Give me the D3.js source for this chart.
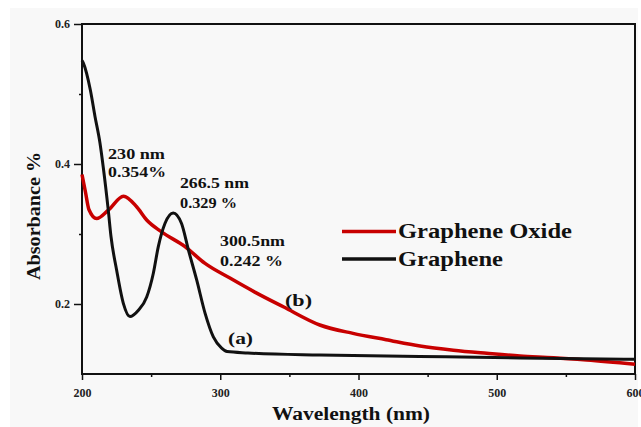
<!DOCTYPE html>
<html><head><meta charset="utf-8">
<script src="https://cdn.jsdelivr.net/npm/d3@7"></script>
<style>body{margin:0;background:#fff}svg{display:block}text{font-family:"Liberation Serif","Times New Roman",serif;font-weight:bold}</style>
</head><body>
<script>
// ---- data ----
const grapheneWl  = [200,201,206,209.4,213,215.4,219,221,225,229.9,234.7,240.8,246.8,251.6,255.2,260,266,272,277,283,289,295,301,305,320,372,444,517,600];
const grapheneAbs = [0.548,0.544,0.506,0.468,0.430,0.395,0.334,0.296,0.249,0.201,0.182,0.191,0.210,0.244,0.282,0.315,0.330,0.315,0.277,0.234,0.187,0.153,0.137,0.132,0.130,0.127,0.125,0.123,0.121];
const goWl  = [200,202.5,205,210.6,219,230,239.5,246.8,257.6,274.5,289,307,325,345.6,372,396,420,444.5,468.6,492.7,516.8,541,565,600];
const goAbs = [0.385,0.360,0.335,0.322,0.334,0.354,0.339,0.320,0.303,0.282,0.258,0.237,0.217,0.196,0.170,0.158,0.149,0.140,0.134,0.1296,0.1257,0.1233,0.120,0.114];
const xMajorTicks = [200,300,400,500,600];
const xMinorTicks = [250,350,450,550];
const yMajorTicks = [0.2,0.4,0.6];
const yMinorTicks = [0.3,0.5];
const seriesNames = ["Graphene Oxide","Graphene"];
const annotations = [
  {text:"230 nm", wl:230, v:0.354, row:0},
  {text:"0.354%", wl:230, v:0.354, row:1},
  {text:"266.5 nm", wl:266.5, v:0.329, row:0},
  {text:"0.329 %", wl:266.5, v:0.329, row:1},
  {text:"300.5nm", wl:300.5, v:0.242, row:0},
  {text:"0.242 %", wl:300.5, v:0.242, row:1}
];

const W=641,H=427;
const svg=d3.select("body").append("svg").attr("width",W).attr("height",H);
svg.append("rect").attr("x",10).attr("y",8).attr("width",628).attr("height",H-8).attr("fill","#f8f8f8");

const x=d3.scaleLinear().domain([200,600]).range([82,635]);
const y=d3.scaleLinear().domain([0.1,0.6]).range([374,24]);

// axes
const gx=svg.append("g").attr("transform","translate(0,374)");
gx.call(d3.axisBottom(x).tickValues(xMajorTicks).tickSize(6).tickPadding(8).tickFormat(d3.format("d")));
const gx2=svg.append("g").attr("transform","translate(0,374)");
gx2.call(d3.axisBottom(x).tickValues(xMinorTicks).tickSize(3).tickFormat(""));
const gy=svg.append("g").attr("transform","translate(82,0)");
gy.call(d3.axisLeft(y).tickValues(yMajorTicks).tickSize(8).tickPadding(4).tickFormat(d3.format(".1f")));
const gy2=svg.append("g").attr("transform","translate(82,0)");
gy2.call(d3.axisLeft(y).tickValues(yMinorTicks).tickSize(3).tickFormat(""));
svg.selectAll(".domain").remove();
svg.selectAll(".tick line").attr("stroke","#111").attr("stroke-width",1.5);
svg.selectAll(".tick text").attr("font-size",12).attr("fill","#222").attr("font-family","Liberation Serif").attr("font-weight","bold");

// frame
svg.append("rect").attr("x",x(200)).attr("y",y(0.6)).attr("width",x(600)-x(200)).attr("height",y(0.1)-y(0.6))
  .attr("fill","none").attr("stroke","#111").attr("stroke-width",2);

// lines
const line=d3.line().x(d=>x(d[0])).y(d=>y(d[1])).curve(d3.curveMonotoneX);
svg.append("path").datum(goWl.map((w,i)=>[w,goAbs[i]])).attr("d",line).attr("fill","none").attr("stroke","#c80000").attr("stroke-width",3.5);
svg.append("path").datum(grapheneWl.map((w,i)=>[w,grapheneAbs[i]])).attr("d",line).attr("fill","none").attr("stroke","#111").attr("stroke-width",3);

// annotation text
const annPos=[[108,159,57],[108,177,58],[180,188,69],[180,208,57],[220,246,65],[220,265.5,63]];
annotations.forEach((a,i)=>{
  svg.append("text").attr("x",annPos[i][0]).attr("y",annPos[i][1]).attr("font-size",15).attr("fill","#111")
    .attr("textLength",annPos[i][2]).attr("lengthAdjust","spacingAndGlyphs").text(a.text);
});
svg.append("text").attr("x",285).attr("y",306).attr("font-size",16).attr("fill","#111").attr("textLength",27).attr("lengthAdjust","spacingAndGlyphs").text("(b)");
svg.append("text").attr("x",228).attr("y",344).attr("font-size",16).attr("fill","#111").attr("textLength",25).attr("lengthAdjust","spacingAndGlyphs").text("(a)");

// legend
const legColors=["#c80000","#111"];
const legY=[231.5,259];
const legLen=[174,105];
seriesNames.forEach((n,i)=>{
  svg.append("line").attr("x1",342).attr("x2",396).attr("y1",legY[i]).attr("y2",legY[i]).attr("stroke",legColors[i]).attr("stroke-width",3.5);
  svg.append("text").attr("x",398).attr("y",legY[i]+6.5).attr("font-size",20).attr("fill","#111")
    .attr("textLength",legLen[i]).attr("lengthAdjust","spacingAndGlyphs").text(n);
});

// axis titles
svg.append("text").attr("x",351).attr("y",420).attr("text-anchor","middle").attr("font-size",18).attr("fill","#111")
  .attr("textLength",158).attr("lengthAdjust","spacingAndGlyphs").text("Wavelength (nm)");
svg.append("text").attr("transform","translate(40,216) rotate(-90)").attr("text-anchor","middle").attr("font-size",18).attr("fill","#111")
  .attr("textLength",128).attr("lengthAdjust","spacingAndGlyphs").text("Absorbance %");
</script>
</body></html>
